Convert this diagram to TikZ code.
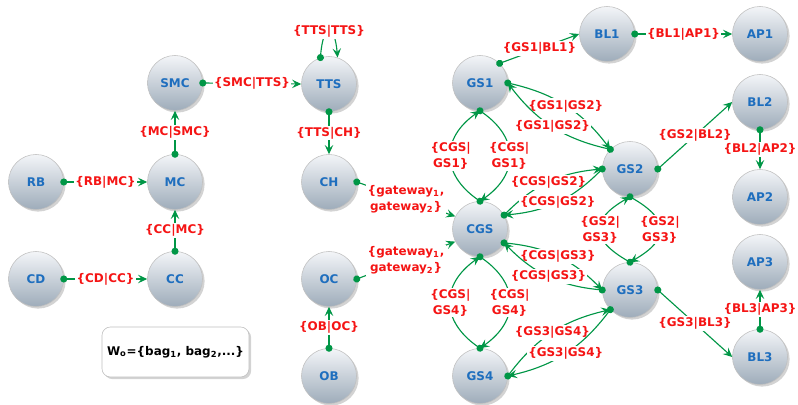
\documentclass[tikz,border=0pt]{standalone}
\usepackage{fontspec}
\setsansfont{DejaVu Sans}
\usetikzlibrary{arrows.meta,shadows}

\definecolor{nodeblue}{RGB}{30,110,190}
\definecolor{tagred}{RGB}{245,20,20}
\definecolor{flowgreen}{RGB}{0,150,70}
\definecolor{balltop}{RGB}{243,245,248}
\definecolor{ballbottom}{RGB}{158,172,186}

\begin{document}
\begin{tikzpicture}
	[x=0.025cm, y=0.025cm, font=\sffamily\bfseries,
	station/.style	= {circle, draw=gray!50, top color=balltop, bottom color=ballbottom, minimum size=13.75mm, inner sep=0pt, text=nodeblue, font=\sffamily\bfseries\fontsize{8.5}{9}\selectfont, drop shadow={opacity=0.35, shadow xshift=1.5pt, shadow yshift=-1.5pt}},
	flow/.style		= {{Circle[length=5pt]}-{Stealth[length=6.5pt, width=6pt, inset=2.5pt]}, draw=flowgreen, line width=0.8pt, shorten <= -2.5pt},
	tag/.style		= {fill=white, inner sep=1pt, text=tagred, align=center, font=\sffamily\bfseries\fontsize{8.5}{11.4}\selectfont},
	bagbox/.style	= {rectangle, rounded corners=6pt, draw=gray!50, fill=white, minimum width=36.75mm, minimum height=12.5mm, font=\sffamily\bfseries\fontsize{8.5}{10}\selectfont, drop shadow={opacity=0.35, shadow xshift=1.5pt, shadow yshift=-1.5pt}}]
	
	\useasboundingbox (0, 0) rectangle (798, -405);
	
	\node at (175, -83)		[station]	(smc)	{SMC};
	\node at (36, -182)		[station]	(rb)	{RB};
	\node at (175, -182)	[station]	(mc)	{MC};
	\node at (36, -279)		[station]	(cd)	{CD};
	\node at (175, -279)	[station]	(cc)	{CC};
	
	\node at (329, -84)		[station]	(tts)	{TTS};
	\node at (329, -182)	[station]	(ch)	{CH};
	\node at (329, -279)	[station]	(oc)	{OC};
	\node at (329, -376)	[station]	(ob)	{OB};
	
	\node at (480, -83)		[station]	(gs1)	{GS1};
	\node at (480, -229)	[station]	(cgs)	{CGS};
	\node at (480, -376)	[station]	(gs4)	{GS4};
	\node at (630, -169)	[station]	(gs2)	{GS2};
	\node at (630, -290)	[station]	(gs3)	{GS3};
	
	\node at (607, -34)		[station]	(bl1)	{BL1};
	\node at (760, -34)		[station]	(ap1)	{AP1};
	\node at (760, -102)	[station]	(bl2)	{BL2};
	\node at (760, -197)	[station]	(ap2)	{AP2};
	\node at (760, -262)	[station]	(ap3)	{AP3};
	\node at (760, -357)	[station]	(bl3)	{BL3};
	
	\node at (175.5, -352)	[bagbox]	(wbag)	{W\textsubscript{o}=\{bag\textsubscript{1}, bag\textsubscript{2},...\}};
	
	% left part
	\draw [flow] (rb.east) -- (mc.west) node[tag, midway] {\{RB|MC\}};
	\draw [flow] (cd.east) -- (cc.west) node[tag, midway] {\{CD|CC\}};
	\draw [flow] (cc.north) -- (mc.south) node[tag, midway] {\{CC|MC\}};
	\draw [flow] (mc.north) -- (smc.south) node[tag, midway] {\{MC|SMC\}};
	\draw [flow] (smc.east) -- (tts.west) node[tag, midway] {\{SMC|TTS\}};
	\draw [flow] (tts.108) .. controls +(3, 35) and +(-3, 35) .. (tts.72) node[tag, midway] {\{TTS|TTS\}};
	\draw [flow] (tts.south) -- (ch.north) node[tag, midway] {\{TTS|CH\}};
	\draw [flow] (ob.north) -- (oc.south) node[tag, midway] {\{OB|OC\}};
	
	\draw [flow] (ch.east) -- (cgs.153) node[tag, midway] {\{gateway\textsubscript{1},\\gateway\textsubscript{2}\}};
	\draw [flow] (oc.east) -- (cgs.207) node[tag, midway] {\{gateway\textsubscript{1},\\gateway\textsubscript{2}\}};
	
	% loops between stations
	\draw [flow] (cgs.north) to[out=145, in=215, looseness=1.35] node[tag] {\{CGS|\\GS1\}} (gs1.south);
	\draw [flow] (gs1.south) to[out=-35, in=35, looseness=1.35] node[tag] {\{CGS|\\GS1\}} (cgs.north);
	\draw [flow] (gs4.north) to[out=145, in=215, looseness=1.35] node[tag] {\{CGS|\\GS4\}} (cgs.south);
	\draw [flow] (cgs.south) to[out=-35, in=35, looseness=1.35] node[tag] {\{CGS|\\GS4\}} (gs4.north);
	\draw [flow] (gs3.north) to[out=150, in=210, looseness=1.8] node[tag] {\{GS2|\\GS3\}} (gs2.south);
	\draw [flow] (gs2.south) to[out=-30, in=30, looseness=1.8] node[tag] {\{GS2|\\GS3\}} (gs3.north);
	
	\draw [flow] (gs1.east) to[bend left=20] node[tag] {\{GS1|GS2\}} (gs2.135);
	\draw [flow] (gs2.135) to[bend left=20] node[tag] {\{GS1|GS2\}} (gs1.east);
	\draw [flow] (cgs.30) to[bend left=20] node[tag] {\{CGS|GS2\}} (gs2.west);
	\draw [flow] (gs2.west) to[bend left=20] node[tag] {\{CGS|GS2\}} (cgs.30);
	\draw [flow] (cgs.-30) to[bend left=20] node[tag] {\{CGS|GS3\}} (gs3.west);
	\draw [flow] (gs3.west) to[bend left=20] node[tag] {\{CGS|GS3\}} (cgs.-30);
	\draw [flow] (gs4.east) to[bend left=20] node[tag] {\{GS3|GS4\}} (gs3.225);
	\draw [flow] (gs3.225) to[bend left=20] node[tag] {\{GS3|GS4\}} (gs4.east);
	
	% right part
	\draw [flow] (gs1.45) -- (bl1.west) node[tag, midway] {\{GS1|BL1\}};
	\draw [flow] (bl1.east) -- (ap1.west) node[tag, midway] {\{BL1|AP1\}};
	\draw [flow] (gs2.east) -- (bl2.west) node[tag, midway] {\{GS2|BL2\}};
	\draw [flow] (bl2.south) -- (ap2.north) node[tag, midway] {\{BL2|AP2\}};
	\draw [flow] (gs3.east) -- (bl3.west) node[tag, midway] {\{GS3|BL3\}};
	\draw [flow] (bl3.north) -- (ap3.south) node[tag, midway] {\{BL3|AP3\}};
\end{tikzpicture}
\end{document}
